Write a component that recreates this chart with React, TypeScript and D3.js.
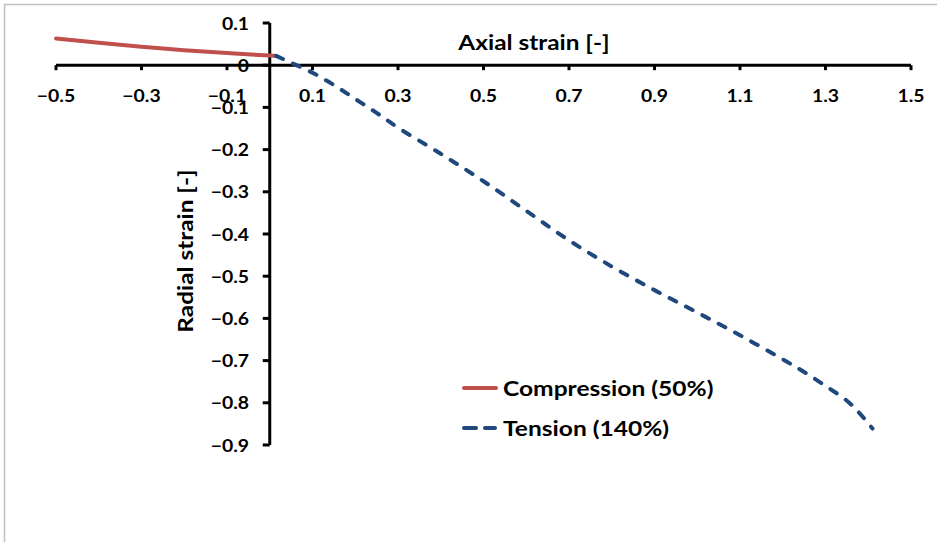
import React from "react";
import * as d3 from "d3";

// Axial vs radial strain for two loading cases
const compressionAxial = [-0.5, -0.4, -0.3, -0.2, -0.1, 0.0, 0.015];
const compressionRadial = [0.0635, 0.053, 0.0437, 0.0357, 0.0288, 0.0228, 0.022];

const tensionAxial = [0.015, 0.05, 0.1, 0.15, 0.2, 0.25, 0.3, 0.4, 0.5, 0.6, 0.7, 0.8, 0.9, 1.0, 1.1, 1.2, 1.25, 1.3, 1.35, 1.38, 1.41];
const tensionRadial = [0.022, 0.006, -0.018, -0.047, -0.08, -0.113, -0.148, -0.21, -0.275, -0.345, -0.415, -0.477, -0.533, -0.586, -0.64, -0.697, -0.727, -0.76, -0.795, -0.825, -0.861];

const xTicks = [-0.5, -0.3, -0.1, 0.1, 0.3, 0.5, 0.7, 0.9, 1.1, 1.3, 1.5];
const yTicks = [0.1, 0, -0.1, -0.2, -0.3, -0.4, -0.5, -0.6, -0.7, -0.8, -0.9];

const seriesNames = ["Compression (50%)", "Tension (140%)"];
const seriesColors = ["#c0504d", "#1f497d"];

const W = 937;
const H = 542;
const FONT = "Lato, 'Open Sans', sans-serif";

type LabelProps = {
  x: number;
  y: number;
  size: number;
  sx: number;
  anchor?: "start" | "middle" | "end";
  rotate?: number;
  children: React.ReactNode;
};

// Bold label with a slightly widened glyph shape
function Label({ x, y, size, sx, anchor = "start", rotate = 0, children }: LabelProps) {
  return (
    <text
      transform={`translate(${x},${y}) rotate(${rotate}) scale(${sx},1)`}
      textAnchor={anchor}
      dominantBaseline="central"
      fontSize={size}
    >
      {children}
    </text>
  );
}

export default function App() {
  const x = d3.scaleLinear().domain([-0.5, 1.5]).range([56, 911]);
  const y = d3.scaleLinear().domain([0.1, -0.9]).range([23, 445]);
  const x0 = x(0);
  const y0 = y(0);

  const line = d3
    .line<[number, number]>()
    .x((d) => x(d[0]))
    .y((d) => y(d[1]))
    .curve(d3.curveCatmullRom.alpha(0.5));

  const comp = compressionAxial.map((v, i) => [v, compressionRadial[i]] as [number, number]);
  const tens = tensionAxial.map((v, i) => [v, tensionRadial[i]] as [number, number]);

  const tickFmt = (t: number) => (t === 0 ? "0" : d3.format(".1f")(t));

  return (
    <svg
      width={W}
      height={H}
      style={{ position: "absolute", left: 0, top: 0, background: "#fff" }}
      fontFamily={FONT}
      fontWeight="bold"
    >
      <rect x={4.5} y={4.5} width={W + 20} height={H + 20} fill="#fff" stroke="#bfbfbf" strokeWidth={1.5} />

      {/* tick labels */}
      {xTicks.map((t) => (
        <Label key={"xl" + t} x={x(t)} y={95} size={17} sx={1.14} anchor="middle">
          {tickFmt(t)}
        </Label>
      ))}
      {yTicks.map((t) => (
        <Label key={"yl" + t} x={249} y={y(t)} size={17} sx={1.14} anchor="end">
          {tickFmt(t)}
        </Label>
      ))}

      {/* axes */}
      <line x1={x(-0.5)} x2={x(1.5)} y1={y0} y2={y0} stroke="#000" strokeWidth={3} />
      {xTicks.map((t) => (
        <line key={"xt" + t} x1={x(t)} x2={x(t)} y1={y0} y2={y0 + 5} stroke="#000" strokeWidth={3} />
      ))}
      <line x1={x0} x2={x0} y1={y(0.1)} y2={y(-0.9)} stroke="#000" strokeWidth={3} />
      {yTicks.map((t) => (
        <line key={"yt" + t} x1={x0 - 7} x2={x0} y1={y(t)} y2={y(t)} stroke="#000" strokeWidth={3} />
      ))}

      {/* axis titles */}
      <Label x={534} y={42} size={21} sx={1.16} anchor="middle">
        Axial strain [-]
      </Label>
      <Label x={185} y={251} size={21} sx={1.16} anchor="middle" rotate={-90}>
        Radial strain [-]
      </Label>

      {/* series */}
      <path d={line(comp) || ""} fill="none" stroke={seriesColors[0]} strokeWidth={4} strokeLinecap="round" />
      <path
        d={line(tens) || ""}
        fill="none"
        stroke={seriesColors[1]}
        strokeWidth={4}
        strokeLinecap="round"
        strokeDasharray="7.5 11"
      />

      {/* legend */}
      <line x1={464} x2={496} y1={388} y2={388} stroke={seriesColors[0]} strokeWidth={4} strokeLinecap="round" />
      <Label x={503} y={388} size={21} sx={1.17}>
        {seriesNames[0]}
      </Label>
      <line
        x1={464}
        x2={495}
        y1={428}
        y2={428}
        stroke={seriesColors[1]}
        strokeWidth={4}
        strokeLinecap="round"
        strokeDasharray="12 9"
      />
      <Label x={503} y={428} size={21} sx={1.17}>
        {seriesNames[1]}
      </Label>
    </svg>
  );
}
